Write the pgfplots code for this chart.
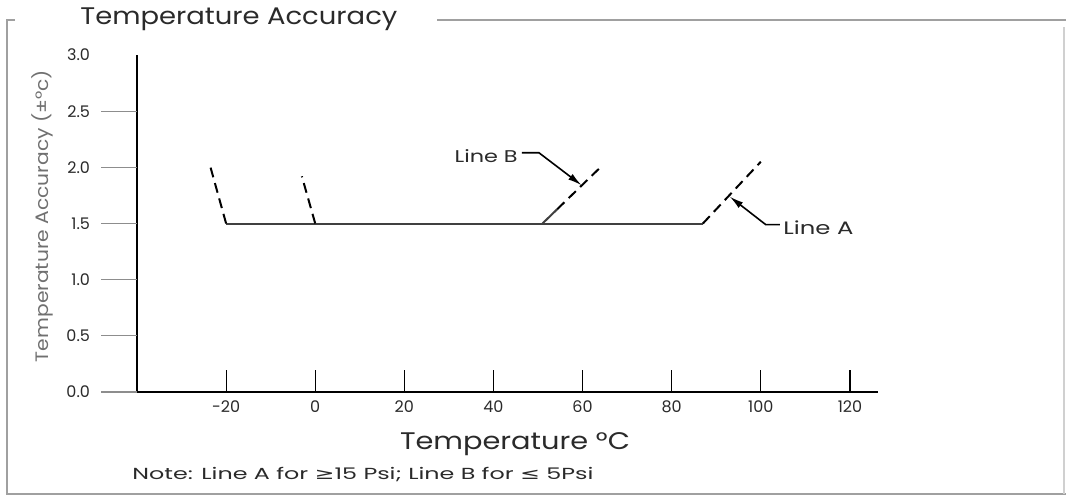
\documentclass[border=0pt]{standalone}
\usepackage{pgfplots}
\pgfplotsset{compat=1.18}
\usepackage{fontspec}
\setmainfont{Poppins}
\newfontfamily\symfont{DejaVu Sans}
\usetikzlibrary{arrows.meta}
\definecolor{framegray}{HTML}{A0A0A0}
\definecolor{labgray}{HTML}{707070}
\definecolor{txt}{HTML}{2A2A2A}
\begin{document}
\begin{tikzpicture}
\path[use as bounding box] (0,0) rectangle (533pt,-251.5pt);
% frame and texts, in pixel units of the reference (1px = 0.5pt)
\begin{scope}[x=0.5pt,y=-0.5pt]
  \draw[framegray,line width=1.3pt] (15,20) -- (7,20) -- (7,494) -- (1066,494);
  \draw[framegray,line width=1.3pt] (437,20) -- (1066,20);
  \draw[framegray!50,line width=0.6pt] (1064,27) -- (1064,494);
  \node[anchor=base west,text=txt,font=\fontsize{12}{14}\selectfont,inner sep=0] at (80,25) {\resizebox{158.5pt}{\height}{Temperature Accuracy}};
  \node[rotate=90,text=labgray,font=\fontsize{9}{11}\selectfont,inner sep=0] at (42,216) {\resizebox{146pt}{\height}{Temperature Accuracy (±°c)}};
  \node[anchor=base,text=txt,font=\fontsize{12}{14}\selectfont,inner sep=0] at (515,449) {\resizebox{115pt}{\height}{Temperature °C}};
  \node[anchor=base west,text=txt,font=\fontsize{8}{10}\selectfont,inner sep=0] at (132,479) {\resizebox{230.5pt}{\height}{Note: Line A for {\symfont ≥}15 Psi; Line B for {\symfont ≤} 5Psi}};
  \node[anchor=base east,text=txt,font=\fontsize{8.5}{10}\selectfont,inner sep=0] at (518,162) {\resizebox{31.5pt}{\height}{Line B}};
  \node[anchor=base west,text=txt,font=\fontsize{9}{11}\selectfont,inner sep=0] at (783,234) {\resizebox{35pt}{\height}{Line A}};
\end{scope}
\begin{axis}[
    at={(68.5pt,-196pt)}, anchor=south west,
    scale only axis, width=370.5pt, height=168.5pt,
    xmin=-40, xmax=126.3, ymin=0, ymax=3,
    axis x line*=bottom, axis y line*=left,
    axis line style={-, black, line width=1.4pt},
    xtick={-20,0,20,40,60,80,100,120},
    ytick={0,0.5,1,1.5,2,2.5,3},
    tick align=inside, major tick length=11pt,
    xtick style={black, line width=0.6pt},
    ytick style={draw=none},
    ticklabel style={font=\fontsize{8}{9}\selectfont, text=txt},
    /pgf/number format/assume math mode=true,
    yticklabel style={xshift=-20pt, /pgf/number format/fixed, /pgf/number format/fixed zerofill, /pgf/number format/precision=1},
    xticklabel style={yshift=-1pt},
    clip=false,
]
% gray y tick marks, drawn outward
\pgfplotsinvokeforeach{0,0.5,1,1.5,2,2.5}{
  \draw[labgray!80,line width=0.6pt] ([xshift=-18pt]axis cs:-40,#1) -- (axis cs:-40,#1);
}
% solid base line
\addplot[color=black!75, line width=1pt] coordinates {(-20,1.5) (87,1.5)};
% dashed branches
\addplot[black, line width=1pt, dash pattern=on 5pt off 3pt] coordinates {(-20,1.5) (-23.5,2.0)};
\addplot[black, line width=1pt, dash pattern=on 5pt off 3pt] coordinates {(0,1.5) (-3,1.92)};
\addplot[color=black!75, line width=1pt] coordinates {(51,1.5) (54.3,1.627)};
\addplot[black, line width=1pt, dash pattern=on 5pt off 3pt] coordinates {(54.3,1.627) (64,2.0)};
\addplot[black, line width=1pt, dash pattern=on 5pt off 3pt] coordinates {(87,1.5) (100,2.05)};
% leader arrows
\draw[black, line width=0.8pt, -{Latex[length=7pt,width=3.5pt]}] (axis cs:46.4,2.13) -- (axis cs:50.2,2.13) -- (axis cs:59.8,1.84);
\draw[black, line width=0.8pt, -{Latex[length=7pt,width=3.5pt]}] (axis cs:104.3,1.49) -- (axis cs:101.1,1.49) -- (axis cs:93,1.74);
\end{axis}
\end{tikzpicture}
\end{document}
